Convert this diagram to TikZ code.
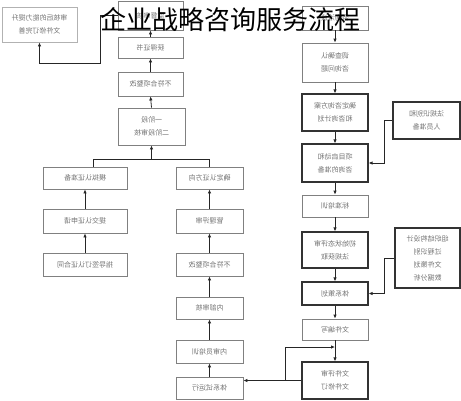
\documentclass[tikz,border=0pt]{standalone}
\usepackage{fontspec}
\newfontfamily\cjk{Noto Sans CJK SC}
\usetikzlibrary{arrows.meta}
% the box texts of the picture are printed mirrored
\newcommand{\flipped}[1]{\reflectbox{\begin{tabular}{@{}c@{}}#1\end{tabular}}}

\begin{document}
\begin{tikzpicture}[x=1pt,y=-1pt,
	box/.style={draw=black!50, line width=0.8pt, inner sep=0pt, text=black!55, font=\cjk\fontsize{7}{13}\selectfont},
	boldbox/.style={box, draw=black!80, line width=1.2pt},
	arr/.style={-{Latex[length=4pt,width=3.5pt]}, black!85, line width=0.8pt},
	ln/.style={black!85, line width=0.8pt}]
	\useasboundingbox (0,0) rectangle (461,400);

	%% left and middle column (certification)
	\node[box, draw=black!30, minimum width=75pt, minimum height=35pt] (cert) at (39.5,24.5) {\flipped{审核后的能力提升\\文件修订完善}};
	\node[box, minimum width=65pt, minimum height=29pt] (topc) at (150.5,15.5) {\flipped{监督审核}};
	\node[box, minimum width=65pt, minimum height=21pt] (getcert) at (150.5,47.5) {\flipped{获得证书}};
	\node[box, minimum width=65pt, minimum height=24pt] (nc1) at (150.5,84) {\flipped{不符合项整改}};
	\node[box, minimum width=67pt, minimum height=37pt] (stage) at (151.5,126.5) {\flipped{一阶段\\二阶段审核}};
	\node[box, minimum width=84pt, minimum height=22pt] (mock) at (85,178) {\flipped{模拟认证准备}};
	\node[box, minimum width=84pt, minimum height=24pt] (apply) at (85,221) {\flipped{提交认证申请}};
	\node[box, minimum width=84pt, minimum height=23pt] (contract) at (85,264.5) {\flipped{指导签订认证合同}};
	\node[box, minimum width=67pt, minimum height=22pt] (dir) at (209.5,178) {\flipped{确定认证方向}};
	\node[box, minimum width=67pt, minimum height=24pt] (review) at (209.5,221) {\flipped{管理评审}};
	\node[box, minimum width=67pt, minimum height=23pt] (nc2) at (209.5,264.5) {\flipped{不符合项整改}};
	\node[box, minimum width=67pt, minimum height=22pt] (audit) at (209.5,308) {\flipped{内部审核}};
	\node[box, minimum width=67pt, minimum height=23pt] (train) at (209.5,351.5) {\flipped{内审员培训}};
	\node[box, minimum width=67pt, minimum height=22pt] (trial) at (209.5,388) {\flipped{体系试运行}};

	%% right column (consulting)
	\node[box, minimum width=66pt, minimum height=24pt] (r0) at (335,18) {\flipped{咨询洽谈}};
	\node[box, minimum width=66pt, minimum height=39pt] (survey) at (335,62.5) {\flipped{调查确认\\咨询问题}};
	\node[boldbox, minimum width=66pt, minimum height=37pt] (plan) at (335,112.5) {\flipped{确定咨询方案\\和咨询计划}};
	\node[boldbox, minimum width=66pt, minimum height=38pt] (start) at (335,163) {\flipped{项目启动和\\咨询的准备}};
	\node[box, minimum width=66pt, minimum height=22pt] (std) at (335,206) {\flipped{标准培训}};
	\node[boldbox, minimum width=66pt, minimum height=36pt] (init) at (335,250) {\flipped{初始状态评审\\法规获取}};
	\node[boldbox, minimum width=66pt, minimum height=23pt] (sysplan) at (335,293.5) {\flipped{体系策划}};
	\node[box, minimum width=66pt, minimum height=21pt] (write) at (335,329.5) {\flipped{文件编写}};
	\node[boldbox, minimum width=66pt, minimum height=37pt] (docrev) at (335,380.5) {\flipped{文件评审\\文件修订}};
	\node[boldbox, minimum width=67pt, minimum height=37pt] (law) at (426.5,120.5) {\flipped{法规识别和\\人员准备}};
	\node[boldbox, minimum width=65pt, minimum height=60pt] (org) at (427.5,258) {\flipped{组织结构设计\\过程识别\\文件策划\\数据分析}};

	%% connectors
	\coordinate (c1) at (100,63);
	\draw[arr] (topc.west) -| (c1) -| (cert.south);
	\draw[arr] (getcert.north) -- (topc.south);
	\draw[arr] (nc1.north) -- (getcert.south);
	\draw[arr] (stage.north) -- (nc1.south);

	\coordinate (bl) at (93,159);
	\coordinate (br) at (dir.north |- bl);
	\coordinate (bm) at (stage.south |- bl);
	\draw[ln] (mock.north -| bl) -- (bl) -- (br) -- (dir.north);
	\draw[arr] (bm) -- (stage.south);

	\draw[arr] (apply.north) -- (mock.south);
	\draw[arr] (contract.north) -- (apply.south);
	\draw[arr] (review.north) -- (dir.south);
	\draw[arr] (nc2.north) -- (review.south);
	\draw[arr] (audit.north) -- (nc2.south);
	\draw[arr] (train.north) -- (audit.south);
	\draw[arr] (trial.north) -- (train.south);

	\draw[arr] (r0.south) -- (survey.north);
	\draw[arr] (survey.south) -- (plan.north);
	\draw[arr] (plan.south) -- (start.north);
	\draw[arr] (start.south) -- (std.north);
	\draw[arr] (std.south) -- (init.north);
	\draw[arr] (init.south) -- (sysplan.north);
	\draw[arr] (sysplan.south) -- (write.north);
	\draw[arr] (write.south) -- (docrev.north);

	\draw[arr] (law.west) -- ++(-8,0) |- (start.east);
	\draw[arr] (org.west) -- ++(-10,0) |- (sysplan.east);

	\draw[arr] (docrev.west) -- (docrev.west -| trial.east);
	\coordinate (fb) at (285,380.5);
	\coordinate (fbend) at (335,347);
	\draw[arr] (fb) |- (fbend);

	%% title over everything
	\node[font=\cjk\fontsize{26}{26}\selectfont] (title) at (230,20) {企业战略咨询服务流程};
\end{tikzpicture}
\end{document}
